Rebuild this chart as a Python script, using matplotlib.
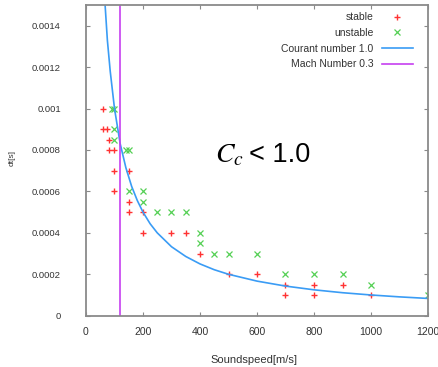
import matplotlib
matplotlib.use('Agg')
import matplotlib.pyplot as plt

plt.rcParams['font.family'] = ['Liberation Sans', 'DejaVu Sans']

# stable runs (red +)
stable_c = [60, 60, 75, 80, 80, 100, 100, 150, 100, 150, 150, 200,
            200, 300, 350, 400, 500, 600, 700, 800, 900, 700, 800, 1000]
stable_dt = [0.001, 0.0009, 0.0009, 0.00085, 0.0008, 0.0008, 0.0007, 0.0007,
             0.0006, 0.00055, 0.0005, 0.0005, 0.0004, 0.0004, 0.0004, 0.0003,
             0.0002, 0.0002, 0.00015, 0.00015, 0.00015, 0.0001, 0.0001, 0.0001]

# unstable runs (green x)
unstable_c = [90, 100, 100, 100, 140, 150, 150, 200, 200, 250, 300, 350,
              400, 400, 450, 500, 600, 700, 800, 900, 1000, 1200]
unstable_dt = [0.001, 0.001, 0.0009, 0.00085, 0.0008, 0.0008, 0.0006, 0.0006,
               0.00055, 0.0005, 0.0005, 0.0005, 0.0004, 0.00035, 0.0003, 0.0003,
               0.0003, 0.0002, 0.0002, 0.0002, 0.00015, 0.0001]

# Courant number 1.0 curve
courant_c = [67, 75, 85, 100, 120, 140, 160, 180, 200, 225, 250, 300, 350,
             400, 450, 500, 600, 700, 800, 900, 1000, 1100, 1200]
courant_dt = [0.0015, 0.00133, 0.00118, 0.001, 0.00083, 0.000714, 0.000625,
              0.000556, 0.0005, 0.000444, 0.0004, 0.000333, 0.000286, 0.00025,
              0.000222, 0.0002, 0.000167, 0.000143, 0.000125, 0.000111, 0.0001,
              0.0000909, 0.0000833]

mach_c = 120

xticks = [0, 200, 400, 600, 800, 1000, 1200]
yticks = [0, 0.0002, 0.0004, 0.0006, 0.0008, 0.001, 0.0012, 0.0014]
ytick_labels = ['0', '0.0002', '0.0004', '0.0006', '0.0008', '0.001', '0.0012', '0.0014']

fig = plt.figure(figsize=(4.39, 3.67), dpi=100)
ax = fig.add_axes([86 / 439, 1 - 315.7 / 367, 342 / 439, 310.7 / 367])

ax.plot(stable_c, stable_dt, ls='none', marker='+', ms=5, mew=1.0,
        color='#ff3333', label='stable')
ax.plot(unstable_c, unstable_dt, ls='none', marker='x', ms=4, mew=0.9,
        color='#55d055', label='unstable')
ax.plot(courant_c, courant_dt, color='#3a9cf5', lw=1.2, label='Courant number 1.0')
ax.axvline(mach_c, color='#c63ff0', lw=1.2, label='Mach Number 0.3')

ax.set_xlim(0, 1200)
ax.set_ylim(0, 0.0015)
ax.set_xticks(xticks)
ax.set_xticklabels([str(v) for v in xticks])
ax.set_yticks(yticks)
ax.set_yticklabels(ytick_labels)

for s in ax.spines.values():
    s.set_color('#8a8a8a')
    s.set_linewidth(1.3)
ax.tick_params(direction='in', length=3, width=0.8, color='#8a8a8a',
               top=True, right=True, labelsize=7.5, labelcolor='#333333')
ax.tick_params(axis='y', pad=18, labelsize=6.8)
ax.tick_params(axis='x', pad=8)

ax.set_xlabel('Soundspeed[m/s]', fontsize=8, color='#333333')
ax.xaxis.set_label_coords(0.49, -0.128)
ax.set_ylabel('dt[s]', fontsize=6, color='#333333')
ax.yaxis.set_label_coords(-0.205, 0.508)

ax.legend(loc='upper right', bbox_to_anchor=(0.977, 1.0), frameon=False,
          markerfirst=False, fontsize=7.5, handlelength=3.0, handletextpad=0.8,
          labelspacing=0.55, borderaxespad=0.3, labelcolor='#333333')

fig.text(215 / 439, 1 - 162 / 367, r'$C_c$', fontsize=20,
         math_fontfamily='stix', ha='left', va='baseline')
fig.text(249 / 439, 1 - 162 / 367, '< 1.0', fontsize=19.5,
         ha='left', va='baseline')

fig.savefig('out.png', dpi=100)
